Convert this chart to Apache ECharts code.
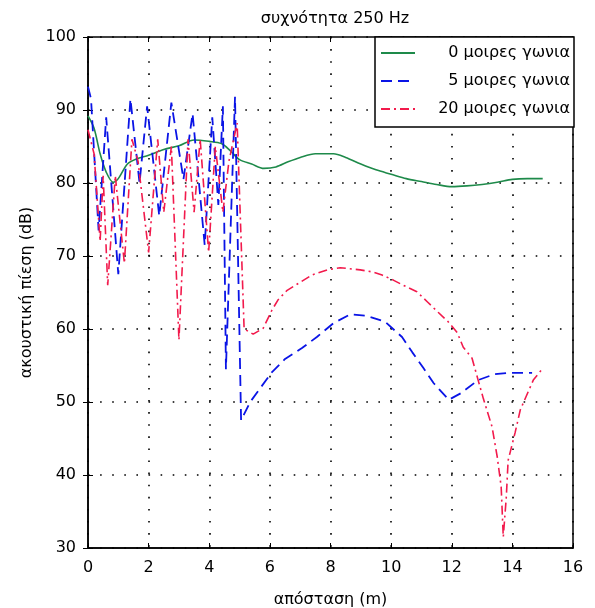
<!DOCTYPE html>
<html>
<head>
<meta charset="utf-8">
<script src="https://cdn.jsdelivr.net/npm/echarts@6/dist/echarts.min.js"></script>
<style>
  html, body { margin: 0; padding: 0; background: #fff; }
  #chart { width: 595px; height: 608px; }
</style>
</head>
<body>
<div id="chart"></div>
<script>
// τιμές από το διάγραμμα (απόσταση σε m, πίεση σε dB)
const greenX = [0, 0.2, 0.4, 0.6, 0.83, 1.0, 1.3, 1.6, 2.0, 2.5, 3.0, 3.5, 4.0, 4.4, 4.7, 5.0, 5.4, 5.8, 6.2, 6.6, 7.0, 7.5, 8.1, 8.5, 9.0, 9.5, 10, 10.5, 11, 11.5, 12, 12.5, 13, 13.5, 14, 14.5, 15];
const greenY = [89.2, 87.5, 84, 81.5, 80.1, 80.6, 82.6, 83.3, 83.8, 84.6, 85.1, 85.9, 85.7, 85.4, 84.4, 83.2, 82.6, 82.0, 82.2, 82.9, 83.5, 84.0, 84.0, 83.5, 82.6, 81.8, 81.2, 80.6, 80.2, 79.8, 79.5, 79.6, 79.8, 80.1, 80.5, 80.6, 80.6];

const blueX = [0, 0.1, 0.35, 0.6, 1.0, 1.4, 1.7, 1.95, 2.35, 2.75, 3.15, 3.45, 3.85, 4.1, 4.3, 4.45, 4.55, 4.85, 5.05, 5.35, 5.7, 6.07, 6.5, 7.06, 7.55, 8.1, 8.65, 9.2, 9.8, 10.36, 10.7, 11.06, 11.4, 11.9, 12.3, 12.87, 13.4, 13.9, 14.65];
const blueY = [93.2, 91.5, 73.5, 89, 67.5, 91.5, 80, 90.5, 75.5, 91, 80.5, 89.5, 71.5, 89, 77, 90.5, 54.5, 91.8, 47.5, 50, 52, 54.1, 55.9, 57.4, 58.9, 60.8, 62, 61.8, 61, 58.9, 56.8, 54.7, 52.6, 50.3, 51.2, 53, 53.8, 54, 54];

const redX = [0, 0.2, 0.4, 0.5, 0.65, 0.9, 1.2, 1.45, 1.65, 2.0, 2.3, 2.5, 2.75, 3.0, 3.3, 3.5, 3.7, 3.98, 4.2, 4.45, 4.65, 4.92, 5.15, 5.45, 5.78, 6.07, 6.27, 6.57, 7.0, 7.39, 7.89, 8.32, 8.98, 9.4, 9.7, 10.07, 10.4, 10.85, 11.2, 11.55, 11.88, 12.18, 12.38, 12.67, 12.87, 13.04, 13.33, 13.5, 13.63, 13.7, 13.8, 13.86, 14.09, 14.26, 14.5, 14.69, 15.0];
const redY = [87.3, 84, 72, 81, 66, 81, 69, 86, 83, 70.5, 86, 76, 85, 58.5, 86, 76, 86, 70.5, 85, 76, 83, 88.2, 60, 59.3, 60.1, 62.6, 64, 65.3, 66.4, 67.4, 68.1, 68.4, 68.1, 67.8, 67.4, 66.7, 66, 65.1, 63.7, 62.3, 61, 59.5, 57.5, 56, 53, 50.5, 46.6, 42.5, 38.4, 31.5, 37, 42, 45.8, 48.9, 51.2, 53, 54.6];

const seriesNames = ['0 μοιρες γωνια', '5 μοιρες γωνια', '20 μοιρες γωνια'];

function zip(xs, ys) {
  return xs.map((x, i) => [x, ys[i]]);
}

const font = 'DejaVu Sans';
const fs = 16;
const gridDots = { show: true, lineStyle: { color: '#000', width: 1.6, type: [1.6, 10.5] } };

const option = {
  animation: false,
  backgroundColor: '#fff',
  title: {
    text: 'συχνότητα 250 Hz',
    left: 330, top: 6, textAlign: 'center',
    textStyle: { fontFamily: font, fontSize: fs, fontWeight: 'normal', color: '#000' }
  },
  grid: {
    left: 88, right: 22, top: 37, bottom: 60,
    outerBoundsMode: 'none', containLabel: false,
    show: true, borderColor: '#000', borderWidth: 1.5
  },
  legend: {
    data: seriesNames,
    orient: 'vertical',
    right: 21, top: 37,
    backgroundColor: '#fff',
    borderColor: '#000',
    borderWidth: 1.5,
    borderRadius: 0,
    padding: [8, 4, 10, 5],
    itemGap: 12,
    itemWidth: 34,
    itemHeight: 16,
    itemStyle: { opacity: 0 },
    formatter: '{a|{name}}',
    textStyle: {
      fontFamily: font, fontSize: fs, color: '#000',
      rich: { a: { fontFamily: font, fontSize: fs, color: '#000', width: 150, align: 'right' } }
    }
  },
  xAxis: [{
    type: 'value', min: 0, max: 16, interval: 2,
    name: 'απόσταση (m)', nameLocation: 'middle', nameGap: 44,
    nameTextStyle: { fontFamily: font, fontSize: fs, color: '#000' },
    axisLine: { lineStyle: { color: '#000', width: 1.5 } },
    axisTick: { inside: true, length: 5, lineStyle: { color: '#000' } },
    axisLabel: { fontFamily: font, fontSize: fs, color: '#000', margin: 12 },
    splitLine: gridDots
  }, {
    type: 'value', min: 0, max: 16, interval: 2, position: 'top',
    axisLine: { show: false },
    axisTick: { inside: true, length: 5, lineStyle: { color: '#000' } },
    axisLabel: { show: false }, splitLine: { show: false }
  }],
  yAxis: [{
    type: 'value', min: 30, max: 100, interval: 10,
    name: 'ακουστική πίεση (dB)', nameLocation: 'middle', nameGap: 42,
    nameTextStyle: { fontFamily: font, fontSize: fs, color: '#000' },
    axisLine: { show: true, lineStyle: { color: '#000', width: 1.5 } },
    axisTick: { show: true, inside: true, length: 5, lineStyle: { color: '#000' } },
    axisLabel: { fontFamily: font, fontSize: fs, color: '#000', margin: 12 },
    splitLine: gridDots
  }, {
    type: 'value', min: 30, max: 100, interval: 10, position: 'right',
    axisLine: { show: false },
    axisTick: { show: true, inside: true, length: 5, lineStyle: { color: '#000' } },
    axisLabel: { show: false }, splitLine: { show: false }
  }],
  series: [
    {
      name: seriesNames[0], type: 'line', symbol: 'none',
      data: zip(greenX, greenY), smooth: 0.3,
      lineStyle: { color: '#1e8a4a', width: 1.6 }, itemStyle: { color: '#1e8a4a' }
    },
    {
      name: seriesNames[1], type: 'line', symbol: 'none',
      data: zip(blueX, blueY),
      lineStyle: { color: '#0a14e6', width: 1.8, type: [11, 6] }, itemStyle: { color: '#0a14e6' }
    },
    {
      name: seriesNames[2], type: 'line', symbol: 'none',
      data: zip(redX, redY),
      lineStyle: { color: '#f21a4c', width: 1.6, type: [9, 4, 2, 4] }, itemStyle: { color: '#f21a4c' }
    }
  ]
};

const chart = echarts.init(document.getElementById('chart'));
chart.setOption(option);
</script>
</body>
</html>
